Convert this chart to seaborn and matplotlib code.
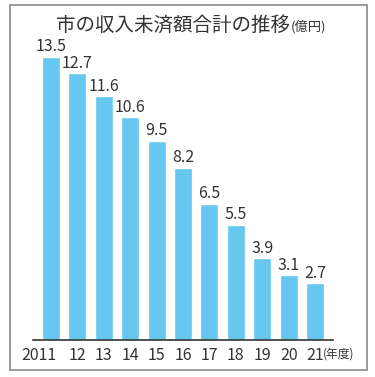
import matplotlib
matplotlib.use("Agg")
import matplotlib.pyplot as plt
import matplotlib.transforms as mtransforms
from matplotlib.patches import Rectangle
import seaborn as sns
import pandas as pd

# data
years = ["2011", "12", "13", "14", "15", "16", "17", "18", "19", "20", "21"]
amounts = [13.5, 12.7, 11.6, 10.6, 9.5, 8.2, 6.5, 5.5, 3.9, 3.1, 2.7]

sns.set_style("white")
plt.rcParams['font.family'] = ['Noto Sans CJK JP', 'DejaVu Sans']

W, H = 375, 377
fig = plt.figure(figsize=(W / 100, H / 100), dpi=100)
ax = fig.add_axes([33 / W, 37 / H, 300 / W, 294 / H])

df = pd.DataFrame({'year': years, 'amount': amounts})
sns.barplot(data=df, x='year', y='amount', color='#66C8F0', saturation=1,
            width=0.68, ax=ax)

ax.set_xlim(-0.68, 10.68)
ax.set_ylim(0, 14)
ax.set_xlabel('')
ax.set_ylabel('')
ax.set_yticks([])
for s in ['top', 'right', 'left']:
    ax.spines[s].set_visible(False)
ax.spines['bottom'].set_color('#333333')
ax.spines['bottom'].set_linewidth(1.2)
ax.tick_params(axis='x', length=0, pad=5, labelsize=11.5, labelcolor='#333333')

# shift the "2011" label left like the original
first = ax.get_xticklabels()[0]
first.set_ha('right')
first.set_transform(first.get_transform() +
                    mtransforms.ScaledTranslation(0.05, 0, fig.dpi_scale_trans))

for i, v in enumerate(amounts):
    ax.annotate(f'{v}', (i, v), xytext=(0, 1), textcoords='offset points',
                ha='center', va='bottom', fontsize=11.5, color='#333333')

fig.text(323 / W, 1 - 354 / H, '(年度)', fontsize=8.5, color='#333333',
         ha='left', va='center')

# title
fig.text(290 / W, 1 - 25 / H, '市の収入未済額合計の推移', fontsize=14,
         color='#333333', ha='right', va='center')
fig.text(291 / W, 1 - 27 / H, '(億円)', fontsize=9.5, color='#333333',
         ha='left', va='center')

# outer frame
fig.patches.append(Rectangle((10 / W, 1 - 370 / H), 357 / W, 365 / H,
                             transform=fig.transFigure, fill=False,
                             edgecolor='#8a8a8a', linewidth=1.2))

fig.savefig('out.png', dpi=100)
